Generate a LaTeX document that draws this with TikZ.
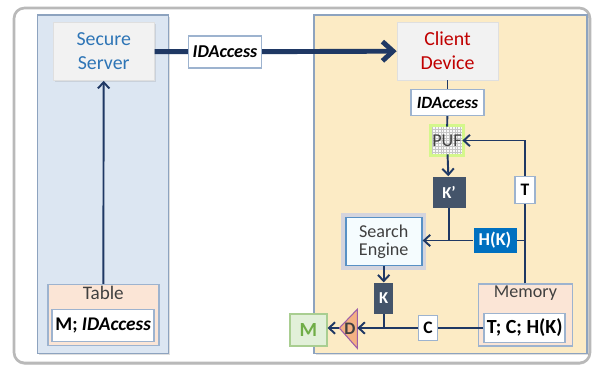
\documentclass[tikz,border=0pt]{standalone}
\usepackage{fontspec}
\setmainfont{Carlito}
\usetikzlibrary{arrows.meta,shadows}
\definecolor{navy}{HTML}{1F3864}
\definecolor{panelblue}{HTML}{DCE6F2}
\definecolor{panelsand}{HTML}{FCEBC5}
\definecolor{panelline}{HTML}{8DA3BF}
\definecolor{hostfill}{HTML}{F2F2F2}
\definecolor{tagline}{HTML}{9DB3CF}
\definecolor{slate}{HTML}{44546A}
\definecolor{hkblue}{HTML}{0070C0}
\definecolor{peach}{HTML}{FBE5D6}
\definecolor{serverblue}{HTML}{2E75B6}
\definecolor{clientred}{HTML}{C00000}
\definecolor{mgreen}{HTML}{70AD47}
\definecolor{mfill}{HTML}{E2F0D9}
\definecolor{dorange}{HTML}{F4B183}
\definecolor{dpurple}{HTML}{9E5FA8}
\definecolor{darktext}{HTML}{404040}

\begin{document}
\begin{tikzpicture}[x=0.02cm,y=-0.02cm,
    wh/.style 2 args={minimum width=#1*0.02cm,minimum height=#2*0.02cm,inner sep=0pt},
    panel/.style={draw=panelline,line width=0.9pt,drop shadow={opacity=0.25,shadow xshift=1pt,shadow yshift=-1pt}},
    host/.style={fill=hostfill,draw=gray!25,align=center,font=\fontsize{11.3}{13.6}\selectfont,
        drop shadow={opacity=0.2,shadow xshift=0.8pt,shadow yshift=-0.8pt}},
    tag/.style={fill=white,draw=tagline,line width=0.8pt,font=\bfseries\itshape\fontsize{10.3}{12}\selectfont},
    key/.style={fill=slate,text=white,font=\bfseries\fontsize{9.5}{11}\selectfont},
    small/.style={fill=white,draw=tagline,line width=0.8pt,font=\bfseries\fontsize{10}{12}\selectfont},
    store/.style={fill=peach,draw=tagline,line width=0.8pt},
    link/.style={draw=navy,line width=1.1pt},
    flow/.style={link,-{Straight Barb[length=3.5pt,width=6.5pt]}},
    bigline/.style={draw=navy,line width=2.8pt},
    bigflow/.style={bigline,-{Straight Barb[length=6pt,width=11pt]}}]
    \useasboundingbox[fill=white] (0,0) rectangle (596,365);

    % frame and the two sides
    \draw[fill=white,draw=gray!55,line width=1.5pt,rounded corners=6pt,
        drop shadow={opacity=0.3,shadow xshift=0pt,shadow yshift=-1pt}] (14,8) rectangle (590,363);
    \draw[panel,fill=panelblue] (37.3,15) rectangle (168.3,353.3);
    \draw[panel,fill=panelsand] (314,15) rectangle (587,353.3);

    % server side
    \node[host,wh={101}{58},text=serverblue] (server) at (103.7,51.5) {Secure\\Server};
    \node[store,wh={111}{61}] (table) at (103.3,315) {};
    \node[font=\fontsize{10.9}{12}\selectfont,text=darktext] (tabtitle) at (103.3,293) {Table};
    \node[tag,wh={102}{32},font=\bfseries\fontsize{11}{13}\selectfont] (tabrow) at (103.2,325.5) {M; \textit{IDAccess}};

    % client side
    \node[tag,wh={73}{32}] (idtop) at (225,51.8) {IDAccess};
    \node[host,wh={101}{58},text=clientred] (client) at (447.5,51) {Client\\Device};
    \node[tag,wh={73}{26},font=\bfseries\itshape\fontsize{9.8}{12}\selectfont] (idsub) at (447.5,102.5) {IDAccess};
    \node[wh={30}{27},fill=gray!5,text=darktext,font=\fontsize{10.3}{12}\selectfont,
        preaction={draw=green!45!yellow!60,line width=3pt,opacity=0.6},
        path picture={\draw[gray!45,line width=0.2pt,step=1.6pt] (path picture bounding box.south west) grid (path picture bounding box.north east);}]
        (puf) at (447,140.5) {PUF};
    \node[key,wh={33}{31}] (kp) at (449,192) {K’};
    \node[small,wh={20}{27}] (tb) at (525,190) {T};
    \node[key,wh={43}{24.5},fill=hkblue,font=\bfseries\fontsize{10.3}{12}\selectfont] (hk) at (495,240.5) {H(K)};
    \node[wh={76}{48},fill=cyan!4,draw=serverblue!80,line width=1.1pt,align=center,text=darktext,
        font=\fontsize{10.3}{10.2}\selectfont,preaction={draw=blue!12!gray!30,line width=5pt}]
        (search) at (383.7,241.5) {Search\\Engine};
    \node[key,wh={19}{31}] (kb) at (383.7,298.3) {K};
    \node[store,wh={94}{62}] (mem) at (525.5,315) {};
    \node[font=\fontsize{10.3}{12}\selectfont,text=darktext] (memtitle) at (525.5,293.5) {Memory};
    \node[small,wh={81}{29},font=\bfseries\fontsize{11.4}{13}\selectfont] (memrow) at (524.7,328) {T; C; H(K)};
    \node[small,wh={19.5}{25}] (cb) at (428,328) {C};
    \coordinate (dtip) at (339.3,328);
    \coordinate (dbase) at (357.3,328);
    \filldraw[fill=dorange,draw=dpurple,line width=0.6pt] (dtip) -- (357.3,309.3) -- (357.3,348.3) -- cycle;
    \node[font=\bfseries\fontsize{10}{12}\selectfont,text=darktext,inner sep=0pt] (dd) at (350,328.5) {D};
    \node[wh={37}{32},fill=mfill,draw=mgreen!60,line width=0.8pt,text=mgreen,
        font=\bfseries\fontsize{11.4}{13}\selectfont] (mb) at (308.3,329.8) {M};

    % connectors
    \draw[bigline] (server) -- (idtop);
    \draw[bigflow] (idtop) -- (client);
    \draw[flow] (table) -- (server);
    \draw[link] (client) -- (idsub);
    \draw[link] (idsub) -- (puf);
    \draw[flow] (puf) -- (kp);
    \draw[link] (tb |- mem.north) -- (tb);
    \draw[flow] (tb.north) |- (puf.east);
    \draw[link] (kp) -- (kp |- hk);
    \draw[link] (hk) -- (hk -| tb);
    \draw[flow] (hk.west) -- (hk.west -| search.east);
    \draw[flow] (search) -- (kb);
    \draw[link] (kb) -- (kb |- cb);
    \draw[link] (memrow) -- (cb);
    \draw[flow] (cb) -- (dbase);
    \draw[flow] (dtip) -- (dtip -| mb.east);
\end{tikzpicture}
\end{document}
